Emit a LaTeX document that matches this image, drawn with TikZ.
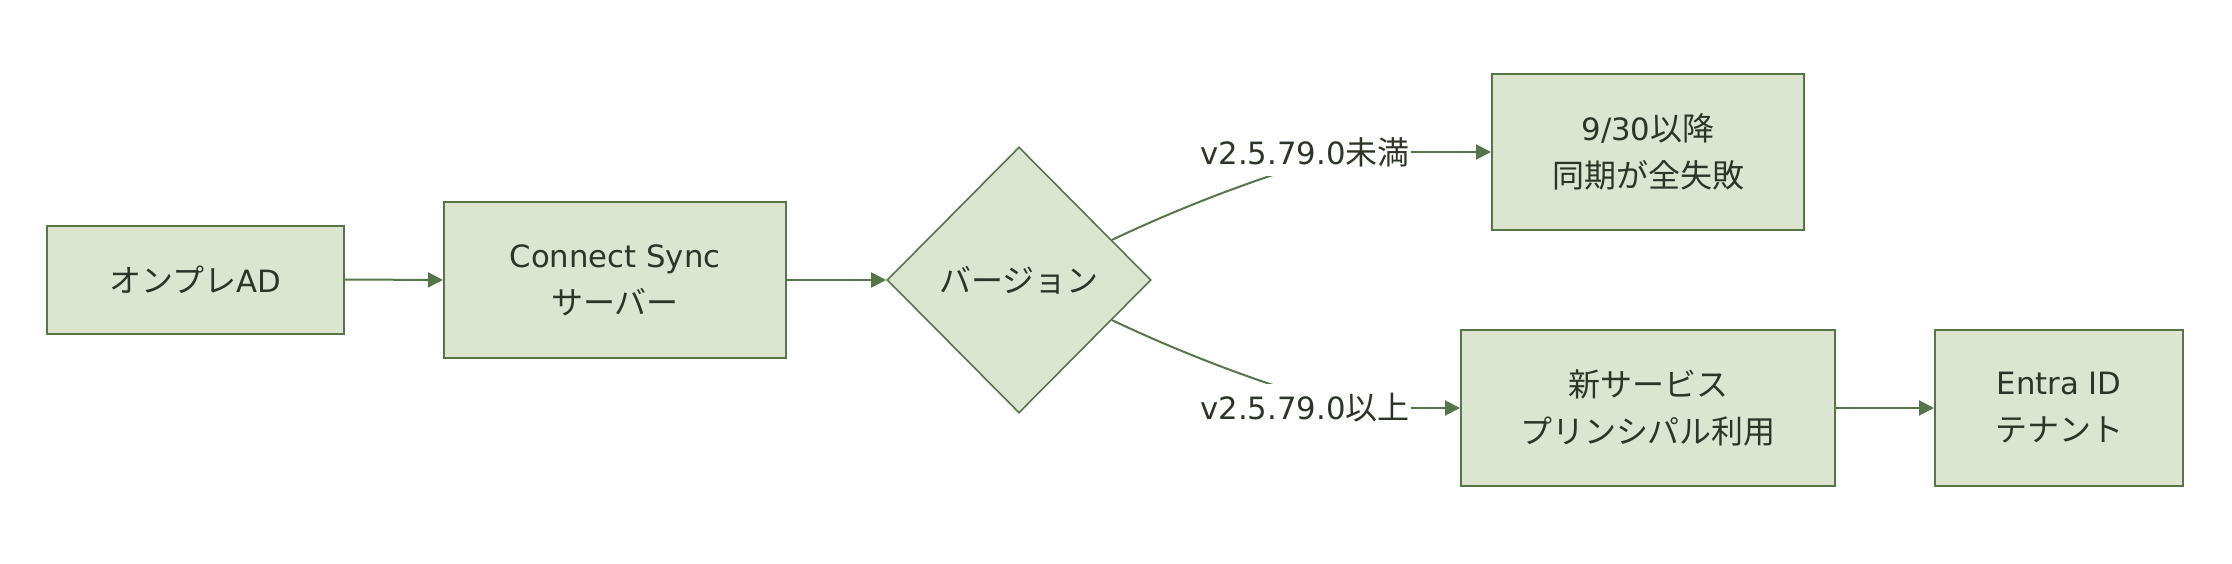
\documentclass[tikz,border=0pt]{standalone}
\usepackage{fontspec}
\setmainfont{Noto Sans CJK JP}
\newfontfamily\lat{DejaVu Sans}[Scale=0.96]
\usetikzlibrary{shapes.geometric,arrows.meta,calc}
\definecolor{nodefill}{RGB}{220,229,208}
\definecolor{nodeline}{RGB}{84,118,72}
\definecolor{txt}{RGB}{45,52,40}
\begin{document}
\begin{tikzpicture}[x=1pt,y=-1pt,
  box/.style={draw=nodeline,fill=nodefill,line width=2pt,inner sep=0pt,align=center,text=txt,
    font=\fontsize{32}{47}\selectfont},
  dia/.style={diamond,draw=nodeline,fill=nodefill,line width=1.6pt,inner sep=0pt},
  elabel/.style={fill=white,inner xsep=1pt,inner ysep=0pt,minimum height=48pt,text=txt,
    font=\fontsize{32}{40}\selectfont},
  arr/.style={draw=nodeline,line width=2pt,-{Triangle[length=15pt,width=15pt]}},
  plainedge/.style={draw=nodeline,line width=2pt}]
\useasboundingbox (0,0) rectangle (2232,564);
\node[box,minimum width=297pt,minimum height=108pt] (a) at (195.7,279.5) {オンプレ{\lat AD}};
\node[box,minimum width=342pt,minimum height=156pt] (b) at (615,280) {{\lat Connect Sync}\\サーバー};
\node[dia,minimum width=264pt,minimum height=266pt] (d) at (1019,280) {};
\node[text=txt,font=\fontsize{32}{40}\selectfont] (dt) at (d.center) {バージョン};
\node[box,minimum width=312pt,minimum height=156pt] (c) at (1648,152) {{\lat 9/30}以降\\同期が全失敗};
\node[box,minimum width=374pt,minimum height=156pt] (e) at (1648,408) {新サービス\\プリンシパル利用};
\node[box,minimum width=248pt,minimum height=156pt] (f) at (2059,408) {{\lat Entra ID}\\テナント};
\coordinate (l1c) at (1305,152);
\coordinate (l2c) at (1305,408);
\coordinate (s1) at ($(d.east)!0.3!(d.north)$);
\coordinate (s2) at ($(d.east)!0.3!(d.south)$);
\draw[arr] (a.east) -- (b.west);
\draw[arr] (b.east) -- (d.west);
\draw[plainedge] (s1) .. controls (1190,203) and (1260,178) .. (1320,160);
\draw[plainedge] (s2) .. controls (1190,357) and (1260,382) .. (1320,400);
\node[elabel] (l1) at (l1c) {{\lat v2.5.79.0}未満};
\node[elabel] (l2) at (l2c) {{\lat v2.5.79.0}以上};
\draw[arr] (l1.east) -- (c.west);
\draw[arr] (l2.east) -- (e.west);
\draw[arr] (e.east) -- (f.west);
\end{tikzpicture}
\end{document}
